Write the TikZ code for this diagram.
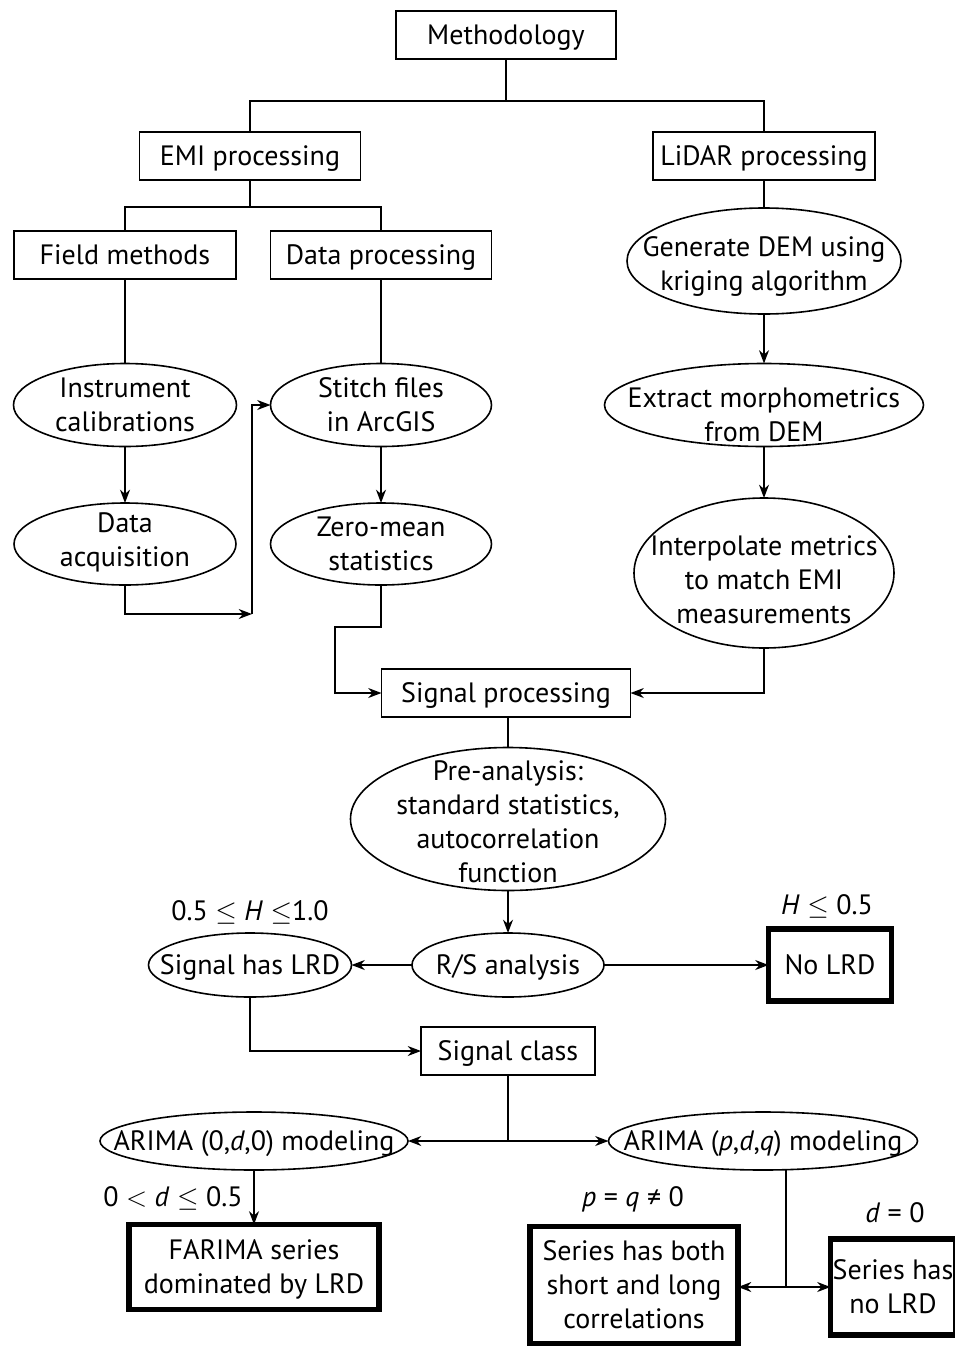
\documentclass[tikz,border=0pt]{standalone}
\usepackage{fontspec}
\setmainfont{PT Sans}
\usetikzlibrary{shapes.geometric,arrows.meta}
\def\px{0.75pt}
\newcommand{\ctext}[2][0pt]{\makebox[0pt]{\smash{\raisebox{\dimexpr-7.5pt-#1\relax}{\begin{tabular}{@{}c@{}}#2\end{tabular}}}}}
\begin{document}
\begin{tikzpicture}[x=0.75pt,y=-0.75pt,
  every node/.style={font=\fontsize{21}{25.5}\selectfont, inner sep=0pt, outer sep=0pt},
  box/.style={draw, line width=1.2pt, rectangle},
  tbox/.style={draw, line width=3.8pt, rectangle},
  ell/.style={draw, line width=1.2pt, ellipse},
  conn/.style={line width=1.2pt},
  arr/.style={line width=1.2pt, -{Stealth[length=10pt,width=7.5pt]}},
]
\fill[white] (0,0) rectangle (955,1346);
\useasboundingbox (0,0) rectangle (955,1346);

% boxes and ellipses
\node[box, minimum width=220*\px, minimum height=48*\px] (meth) at (506,35) {\ctext{Methodology}};
\node[box, minimum width=221*\px, minimum height=48*\px] (emi) at (250,156) {\ctext{EMI processing}};
\node[box, minimum width=222*\px, minimum height=48*\px] (lidar) at (764,156) {\ctext{LiDAR processing}};
\node[box, minimum width=222*\px, minimum height=48*\px] (field) at (125,255) {\ctext{Field methods}};
\node[box, minimum width=221*\px, minimum height=48*\px] (dproc) at (381,255) {\ctext{Data processing}};
\node[ell, minimum width=274*\px, minimum height=106*\px] (gen) at (764,261) {\ctext[2pt]{Generate DEM using\\kriging algorithm}};
\node[ell, minimum width=223*\px, minimum height=83*\px] (inst) at (125,405) {\ctext{Instrument\\calibrations}};
\node[ell, minimum width=221*\px, minimum height=83*\px] (stitch) at (381,405) {\ctext{Stitch files\\in ArcGIS}};
\node[ell, minimum width=319*\px, minimum height=83*\px] (extract) at (764,405) {\ctext[7.5pt]{Extract morphometrics\\from DEM}};
\node[ell, minimum width=222*\px, minimum height=82*\px] (dacq) at (125,544) {\ctext[-3pt]{Data\\acquisition}};
\node[ell, minimum width=221*\px, minimum height=82*\px] (zero) at (381,544) {\ctext{Zero-mean\\statistics}};
\node[ell, minimum width=260*\px, minimum height=150*\px] (interp) at (764,573) {\ctext[5pt]{Interpolate metrics\\to match EMI\\measurements}};
\node[box, minimum width=249*\px, minimum height=48*\px] (sigp) at (506,693) {\ctext{Signal processing}};
\node[ell, minimum width=315*\px, minimum height=143*\px] (pre) at (508,819) {\ctext[2pt]{Pre-analysis:\\standard statistics,\\autocorrelation\\function}};
\node[ell, minimum width=192*\px, minimum height=64*\px] (rs) at (508,965) {\ctext{R/S analysis}};
\node[ell, minimum width=203*\px, minimum height=64*\px] (slrd) at (250,965) {\ctext{Signal has LRD}};
\node[tbox, minimum width=123*\px, minimum height=72*\px] (nolrd) at (830,965) {\ctext{No LRD}};
\node[box, minimum width=174*\px, minimum height=48*\px] (sclass) at (508,1051) {\ctext{Signal class}};
\node[ell, minimum width=308*\px, minimum height=58*\px] (a0) at (254,1141) {\ctext{ARIMA (0,\textit{d},0) modeling}};
\node[ell, minimum width=309*\px, minimum height=58*\px] (apdq) at (763,1141) {\ctext{ARIMA (\textit{p},\textit{d},\textit{q}) modeling}};
\node[tbox, minimum width=250*\px, minimum height=85*\px] (farima) at (254,1267) {\ctext{FARIMA series\\dominated by LRD}};
\node[tbox, minimum width=208*\px, minimum height=117*\px] (both) at (634,1285) {\ctext{Series has both\\short and long\\correlations}};
\node[tbox, minimum width=125*\px, minimum height=96*\px] (nolrd2) at (893,1287) {\ctext{Series has\\no LRD}};

% condition labels
\node (lh1) at (250,911) {\ctext{0.5 $\leq$ \textit{H} $\leq$1.0}};
\node (lh2) at (827,905) {\ctext{\textit{H} $\leq$ 0.5}};
\node (ld1) at (173,1197) {\ctext{0 $<$ \textit{d} $\leq$ 0.5}};
\node (lpq) at (633,1197) {\ctext{\textit{p} = \textit{q} ≠ 0}};
\node (ld0) at (895,1213) {\ctext{\textit{d} = 0}};

% junctions
\coordinate (jm) at (506,101);
\coordinate (je) at (250,207);
\coordinate (jd) at (252,614);
\coordinate (jz) at (335,627);
\coordinate (jc) at (508,1141);
\coordinate (jp) at (786,1287);

% connectors
\draw[conn] (meth.south) -- (jm) -| (emi.north);
\draw[conn] (jm) -| (lidar.north);
\draw[conn] (emi.south) -- (je) -| (field.north);
\draw[conn] (je) -| (dproc.north);
\draw[conn] (lidar.south) -- (gen.north);
\draw[arr] (gen.south) -- (extract.north);
\draw[arr] (extract.south) -- (interp.north);
\draw[conn] (field.south) -- (inst.north);
\draw[conn] (dproc.south) -- (stitch.north);
\draw[arr] (inst.south) -- (dacq.north);
\draw[arr] (stitch.south) -- (zero.north);
\draw[arr] (dacq.south) |- (jd);
\draw[arr] (jd) |- (stitch.west);
\draw[arr] (zero.south) |- (jz) |- (sigp.west);
\draw[arr] (interp.south) |- (sigp.east);
\draw[conn] (sigp.south -| pre.north) -- (pre.north);
\draw[arr] (pre.south) -- (rs.north);
\draw[arr] (rs.west) -- (slrd.east);
\draw[arr] (rs.east) -- (nolrd.west);
\draw[arr] (slrd.south) |- (sclass.west);
\draw[conn] (sclass.south) -- (jc);
\draw[arr] (jc) -- (a0.east);
\draw[arr] (jc) -- (apdq.west);
\draw[arr] (a0.south) -- (farima.north);
\draw[conn] (apdq.south -| jp) -- (jp);
\draw[arr] (jp) -- (jp -| both.east);
\draw[arr] (jp) -- (jp -| nolrd2.west);
\end{tikzpicture}
\end{document}
